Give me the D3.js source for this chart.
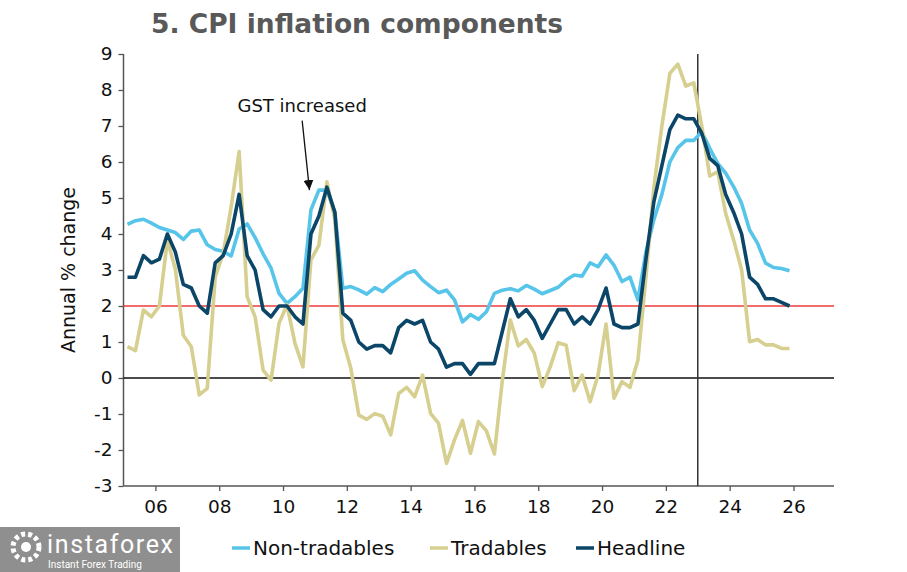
<!DOCTYPE html>
<html><head><meta charset="utf-8">
<script src="https://cdn.jsdelivr.net/npm/d3@7/dist/d3.min.js"></script>
<style>body{margin:0;background:#fff;} svg{display:block;font-family:"DejaVu Sans",Verdana,sans-serif;}</style>
</head><body>
<svg id="chart" width="907" height="572"></svg>
<script>
// Quarterly data, 2005 Q1 .. 2025 Q4
const startYear = 2005;
const seriesNames = ["Non-tradables", "Tradables", "Headline"];
const nonTradables = [
  4.27,4.37,4.41,4.30, 4.18,4.11,4.04,3.85, 4.08,4.11,3.70,3.57, 3.52,3.39,4.14,4.28,
  3.90,3.45,3.05,2.35, 2.07,2.26,2.49,4.67, 5.22,5.22,4.60,2.49, 2.54,2.45,2.33,2.51,
  2.40,2.60,2.75,2.91, 2.98,2.72,2.54,2.37, 2.44,2.17,1.56,1.76, 1.63,1.84,2.35,2.44,
  2.48,2.42,2.57,2.47, 2.34,2.43,2.52,2.72, 2.86,2.83,3.20,3.09, 3.42,3.13,2.68,2.80,
  2.17,3.50,4.40,5.10, 6.00,6.40,6.60,6.60, 6.84,6.38,5.96,5.69, 5.31,4.85,4.11,3.74,
  3.19,3.07,3.04,2.98
];
const tradables = [
  0.87,0.76,1.89,1.70, 2.00,3.83,3.02,1.19, 0.87,-0.47,-0.29,2.81, 3.46,4.76,6.29,2.26,
  1.70,0.22,-0.06,1.52, 2.03,0.96,0.31,3.28, 3.69,5.45,4.40,1.06, 0.27,-1.03,-1.15,-0.99,
  -1.06,-1.58,-0.43,-0.26, -0.52,0.08,-0.98,-1.26, -2.37,-1.72,-1.18,-2.09, -1.21,-1.47,-2.11,-0.06,
  1.61,0.89,1.07,0.69, -0.24,0.31,0.98,0.91, -0.35,0.08,-0.66,0.08, 1.50,-0.56,-0.10,-0.26,
  0.50,2.80,5.30,7.00, 8.46,8.72,8.11,8.20, 7.00,5.61,5.73,4.57, 3.83,3.00,1.01,1.07,
  0.92,0.92,0.82,0.82
];
const headline = [
  2.8,2.8,3.4,3.2, 3.3,4.0,3.5,2.6, 2.5,2.0,1.8,3.2, 3.4,4.0,5.1,3.4,
  3.0,1.9,1.7,2.0, 2.0,1.7,1.5,4.0, 4.5,5.3,4.6,1.8, 1.6,1.0,0.8,0.9,
  0.9,0.7,1.4,1.6, 1.5,1.6,1.0,0.8, 0.3,0.4,0.4,0.1, 0.4,0.4,0.4,1.3,
  2.2,1.7,1.9,1.6, 1.1,1.5,1.9,1.9, 1.5,1.7,1.5,1.9, 2.5,1.5,1.4,1.4,
  1.5,3.3,4.9,5.9, 6.9,7.3,7.2,7.2, 6.8,6.1,5.9,5.1, 4.6,4.0,2.8,2.6,
  2.2,2.2,2.1,2.0
];
const xTickYears = [2006,2008,2010,2012,2014,2016,2018,2020,2022,2024,2026];
const yTicks = [-3,-2,-1,0,1,2,3,4,5,6,7,8,9];
const targetLine = 2;
const forecastStart = 2023;
const annotation = {text: "GST increased", textX: 2010.6, textY: 7.4, fromX: 2010.6, fromY: 7.15, toX: 2010.83, toY: 5.22};

const colors = {"Non-tradables": "#57c4e9", "Tradables": "#d6cf8f", "Headline": "#0b4567"};
const svg = d3.select("#chart");
const x = d3.scaleLinear().domain([2005, 2027.27]).range([123.5, 834]);
const y = d3.scaleLinear().domain([-3, 9]).range([486, 54]);
const tOf = i => startYear + i / 4 + 0.125;

// Title
svg.append("text").attr("x", 151).attr("y", 33).attr("font-size", 26.5).attr("font-weight", "bold")
  .attr("fill", "#595959").text("5. CPI inflation components");

// Axes
const yAxis = svg.append("g").attr("transform", `translate(${x(2005)},0)`)
  .call(d3.axisLeft(y).tickValues(yTicks).tickSize(5).tickPadding(6).tickFormat(d => String(d)));
const xAxis = svg.append("g").attr("transform", `translate(0,${y(-3)})`)
  .call(d3.axisBottom(x).tickValues(xTickYears).tickSize(5).tickPadding(9).tickFormat(d => String(d).slice(2)));
[yAxis, xAxis].forEach(g => {
  g.select(".domain").attr("stroke", "#555").attr("stroke-width", 1.5);
  g.selectAll(".tick line").attr("stroke", "#555").attr("stroke-width", 1.3);
  g.selectAll(".tick text").attr("font-size", 18.5).attr("fill", "#111").attr("font-family", "DejaVu Sans, Verdana, sans-serif");
});
yAxis.select(".domain").attr("d", `M0,${y(9)}V${y(-3)}`);
xAxis.select(".domain").attr("d", `M${x(2005)},0H834`);

// y label
svg.append("text").attr("transform", `translate(75,${(y(9)+y(-3))/2}) rotate(-90)`).attr("text-anchor", "middle")
  .attr("font-size", 19).attr("fill", "#111").text("Annual % change");

// Reference lines
svg.append("line").attr("x1", x(2005)).attr("x2", 834).attr("y1", y(targetLine)).attr("y2", y(targetLine))
  .attr("stroke", "#ee3b3b").attr("stroke-width", 1.5);
svg.append("line").attr("x1", x(2005)).attr("x2", 834).attr("y1", y(0)).attr("y2", y(0))
  .attr("stroke", "#111").attr("stroke-width", 1.5);
svg.append("line").attr("x1", x(forecastStart)).attr("x2", x(forecastStart)).attr("y1", y(9)).attr("y2", y(-3))
  .attr("stroke", "#333").attr("stroke-width", 1.5);

// Series
const line = d3.line().x((d, i) => x(tOf(i))).y(d => y(d));
const seriesData = {"Non-tradables": nonTradables, "Tradables": tradables, "Headline": headline};
seriesNames.forEach(name => {
  svg.append("path").datum(seriesData[name]).attr("d", line).attr("fill", "none")
    .attr("stroke", colors[name]).attr("stroke-width", 3.6).attr("stroke-linejoin", "round");
});

// Annotation
svg.append("text").attr("x", x(annotation.textX)).attr("y", y(annotation.textY)).attr("text-anchor", "middle")
  .attr("font-size", 18).attr("fill", "#111").text(annotation.text);
svg.append("defs").append("marker").attr("id", "arr").attr("viewBox", "0 0 10 10").attr("refX", 10).attr("refY", 5)
  .attr("markerWidth", 10).attr("markerHeight", 10).attr("markerUnits", "userSpaceOnUse").attr("orient", "auto")
  .append("path").attr("d", "M0,0L10,5L0,10Z").attr("fill", "#111");
svg.append("line").attr("x1", x(annotation.fromX)).attr("y1", y(annotation.fromY))
  .attr("x2", x(annotation.toX)).attr("y2", y(annotation.toY)).attr("stroke", "#111").attr("stroke-width", 1.3)
  .attr("marker-end", "url(#arr)");

// Legend
const legendPos = [{name: "Non-tradables", x: 232}, {name: "Tradables", x: 430}, {name: "Headline", x: 576}];
legendPos.forEach(l => {
  svg.append("line").attr("x1", l.x).attr("x2", l.x + 18).attr("y1", 548).attr("y2", 548)
    .attr("stroke", colors[l.name]).attr("stroke-width", 3.5);
  svg.append("text").attr("x", l.x + 21).attr("y", 555).attr("font-size", 20).attr("fill", "#111").text(l.name);
});

// Watermark
const wm = svg.append("g");
wm.append("rect").attr("x", 0).attr("y", 527).attr("width", 180).attr("height", 45).attr("fill", "#8f8f8f");
wm.append("circle").attr("cx", 26).attr("cy", 547).attr("r", 13).attr("fill", "none").attr("stroke", "#fff").attr("stroke-width", 5).attr("stroke-dasharray", "4 3");
wm.append("circle").attr("cx", 26).attr("cy", 547).attr("r", 5).attr("fill", "#fff");
wm.append("text").attr("x", 47).attr("y", 553).attr("font-size", 25).attr("font-family", "Liberation Sans Narrow, Roboto, sans-serif")
  .attr("fill", "#fff").attr("textLength", 126).text("instaforex");
wm.append("text").attr("x", 48).attr("y", 568).attr("font-size", 10).attr("font-family", "Liberation Sans Narrow, Roboto, sans-serif")
  .attr("fill", "#fff").text("Instant Forex Trading");
</script>
</body></html>
